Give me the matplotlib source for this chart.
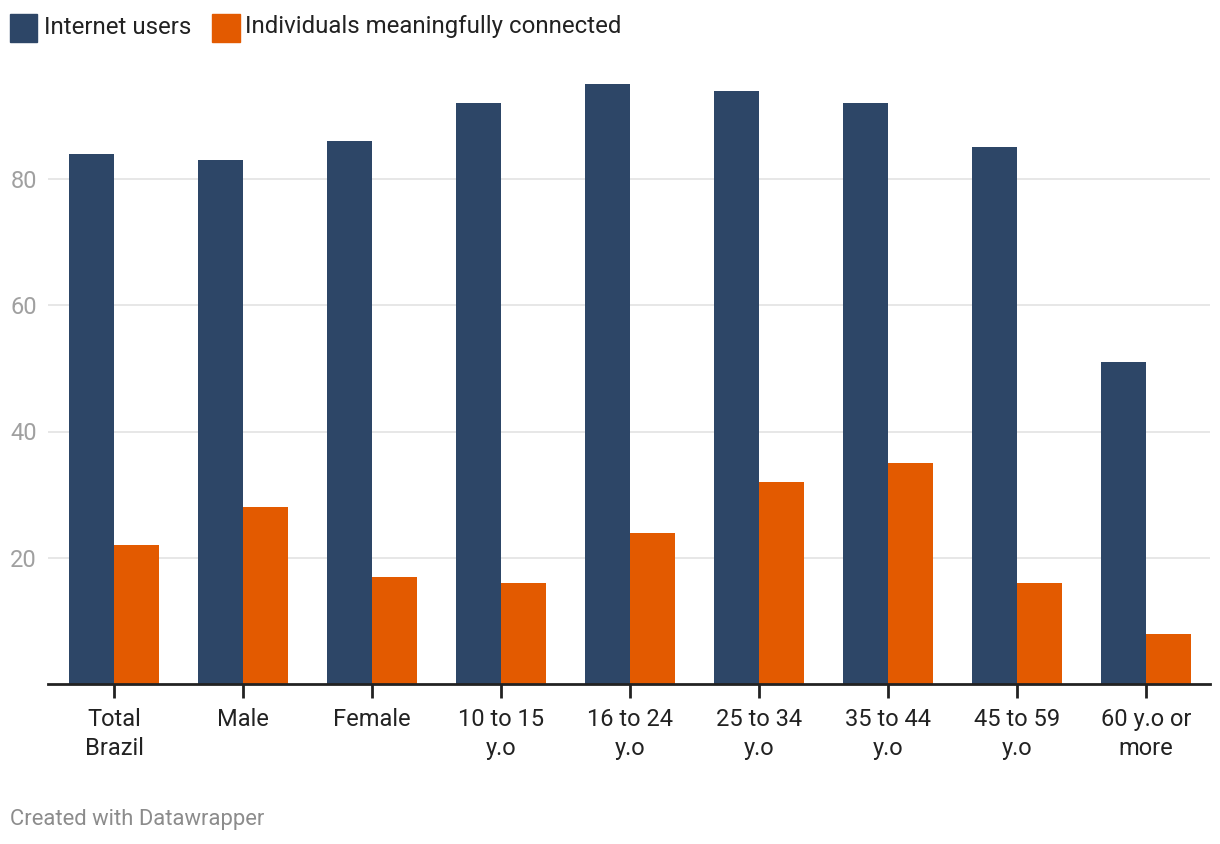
import matplotlib
matplotlib.use("Agg")
import matplotlib.pyplot as plt
from matplotlib.patches import Rectangle
import numpy as np

plt.rcParams['font.family'] = ['Roboto', 'DejaVu Sans']

categories = ["Total\nBrazil", "Male", "Female", "10 to 15\ny.o", "16 to 24\ny.o",
              "25 to 34\ny.o", "35 to 44\ny.o", "45 to 59\ny.o", "60 y.o or\nmore"]
internet_users = [84, 83, 86, 92, 95, 94, 92, 85, 51]
meaningfully_connected = [22, 28, 17, 16, 24, 32, 35, 16, 8]
series_names = ["Internet users", "Individuals meaningfully connected"]
yticks = [20, 40, 60, 80]

BLUE = "#2d4667"
ORANGE = "#e35a00"

W, H = 1220, 844
fig = plt.figure(figsize=(W/100, H/100), dpi=100)
ax = fig.add_axes([48/W, 1-684/H, (1210-48)/W, (684-52.75)/H])

x = np.arange(len(categories))
bw = 45/129
ax.bar(x - bw/2, internet_users, width=bw, color=BLUE, zorder=3)
ax.bar(x + bw/2, meaningfully_connected, width=bw, color=ORANGE, zorder=3)

ax.set_xlim(-66/129, 8 + 64/129)
ax.set_ylim(0, 100)
ax.set_yticks(yticks)
ax.set_yticklabels([str(v) for v in yticks], color="#a0a0a0", fontsize=17)
ax.tick_params(axis='y', length=0, pad=8)
ax.grid(axis='y', color="#e3e3e3", linewidth=1.2, zorder=0)
ax.set_xticks(x)
ax.set_xticklabels(categories, fontsize=17, color="#222222", linespacing=1.33)
ax.tick_params(axis='x', length=10, width=2, color="#222222", pad=7)
for s in ["top", "right", "left"]:
    ax.spines[s].set_visible(False)
ax.spines["bottom"].set_linewidth(2)
ax.spines["bottom"].set_color("#222222")
ax.spines["bottom"].set_zorder(4)

# legend
fig.patches.append(Rectangle((10/W, 1-42/H), 27/W, 28/H, transform=fig.transFigure, color=BLUE))
fig.text(44/W, 1-27/H, series_names[0], fontsize=17.3, color="#222222", va="center", ha="left")
fig.patches.append(Rectangle((212/W, 1-42/H), 28/W, 28/H, transform=fig.transFigure, color=ORANGE))
fig.text(245/W, 1-27/H, series_names[1], fontsize=17.3, color="#222222", va="center", ha="left")

fig.text(10/W, 1-819/H, "Created with Datawrapper", fontsize=15.8, color="#8c8c8c", va="center", ha="left")

fig.savefig("out.png", dpi=100)
